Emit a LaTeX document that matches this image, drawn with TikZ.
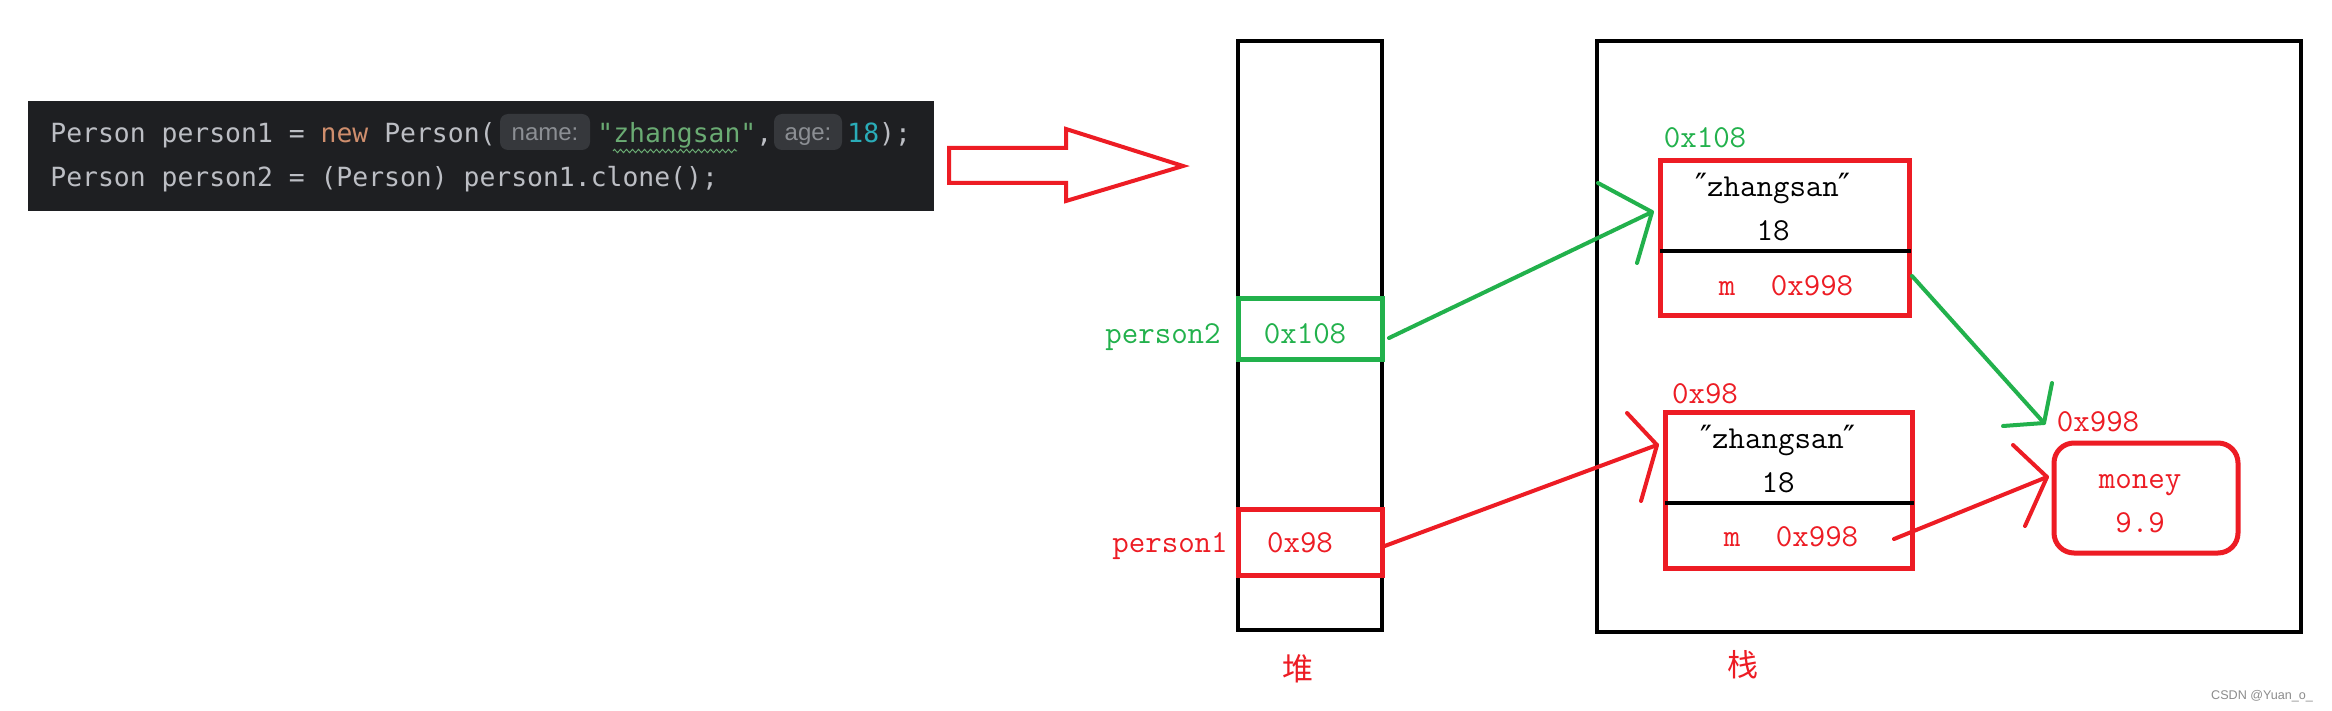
\documentclass[tikz,border=0pt]{standalone}
\usepackage{fontspec}
\usetikzlibrary{decorations.pathmorphing}
\newfontfamily\codefont{DejaVu Sans Mono}
\newfontfamily\hintfont{Liberation Sans}
\newfontfamily\cjk{Noto Sans CJK SC}
\newfontfamily\qfont{DejaVu Sans}
\definecolor{pred}{HTML}{ED1C24}
\definecolor{pgreen}{HTML}{22B14C}
\definecolor{codebg}{HTML}{1E1F22}
\definecolor{codefg}{HTML}{BCBEC4}
\definecolor{kw}{HTML}{CF8E6D}
\definecolor{str}{HTML}{6AAB73}
\definecolor{num}{HTML}{2AACB8}
\definecolor{hintbg}{HTML}{36383C}
\definecolor{hintfg}{HTML}{8C8F94}
\tikzset{
  memtxt/.style={font=\fontsize{16}{18}\selectfont\ttfamily, inner sep=0pt, anchor=base},
  codetxt/.style={font=\fontsize{13.2}{15}\selectfont\codefont, inner sep=0pt, anchor=base west, text=codefg},
  hintbox/.style={fill=hintbg, rounded corners=4pt, inner sep=0pt},
  hinttxt/.style={font=\fontsize{12}{14}\selectfont\hintfont, inner sep=0pt, anchor=base, text=hintfg},
  cjktxt/.style={font=\fontsize{15.5}{18}\selectfont\cjk, inner sep=0pt, anchor=center, text=pred},
  colbox/.style={draw=black, line width=2pt, inner sep=0pt, outer sep=0pt},
  slot/.style={line width=2.5pt, inner sep=0pt, outer sep=0pt},
  objbox/.style={draw=pred, line width=2.5pt, inner sep=0pt, outer sep=0pt},
  divline/.style={draw=black, line width=2pt},
  ptr/.style={line width=2pt, line cap=round, line join=round},
}
\begin{document}
\begin{tikzpicture}[x=0.5pt, y=-0.5pt]
\useasboundingbox (0,0) rectangle (2332,711);
\fill[white] (0,0) rectangle (2332,711);

% ---- code screenshot ----
\fill[codebg] (28,101) rectangle (934,211);
\node[codetxt] (c1a) at (50,143) {Person person1 =};
\node[codetxt, text=kw] (c1b) at (320.3,143) {new};
\node[codetxt] (c1c) at (383.9,143) {Person(};
\node[hintbox, minimum width=45pt, minimum height=18pt] (h1) at (545,132) {};
\node[hinttxt] (h1t) at (545,141) {name:};
\node[codetxt, text=str] (c1d) at (597,143) {"zhangsan"};
\node[codetxt] (c1e) at (756,143) {,};
\node[hintbox, minimum width=34pt, minimum height=18pt] (h2) at (808,132) {};
\node[hinttxt] (h2t) at (808,141) {age:};
\node[codetxt, text=num] (c1f) at (847,143) {18};
\node[codetxt] (c1g) at (878.8,143) {);};
\coordinate (wv1) at (613,151);
\coordinate (wv2) at (737,151);
\draw[str, line width=0.5pt, decorate, decoration={zigzag, segment length=3pt, amplitude=0.8pt}] (wv1) -- (wv2);
\node[codetxt] (c2) at (50,187) {Person person2 = (Person) person1.clone();};

% ---- big hollow arrow ----
\draw[pred, line width=2pt, line join=miter] (949,148) -- (1066,148) -- (1066,129) -- (1183,166) -- (1066,201) -- (1066,183) -- (949,183) -- cycle;

% ---- heap column ----
\node[colbox, minimum width=72pt, minimum height=294.5pt] (heap) at (1310,335.5) {};
\node[slot, draw=pgreen, fill=white, minimum width=72pt, minimum height=30.5pt] (p2) at (1310,328.5) {};
\node[slot, draw=pred, fill=white, minimum width=72pt, minimum height=33pt] (p1) at (1310,542) {};
\node[memtxt, text=pgreen] (p2name) at (1163,343) {person2};
\node[memtxt, text=pgreen] (p2val) at (1305,343) {0x108};
\node[memtxt, text=pred] (p1name) at (1170,552) {person1};
\node[memtxt, text=pred] (p1val) at (1300,552) {0x98};
\node[cjktxt] (heaplbl) at (1298,669) {堆};

% ---- stack box ----
\node[colbox, line width=2.3pt, minimum width=352pt, minimum height=295.5pt] (stack) at (1949,336.5) {};
\node[cjktxt] (stacklbl) at (1743,665) {栈};

% ---- object 0x108 ----
\node[objbox, minimum width=124.5pt, minimum height=77pt] (o1) at (1784.5,238) {};
\coordinate (o1dl) at (1660,251);
\coordinate (o1dr) at (1911,251);
\draw[divline] (o1dl) -- (o1dr);
\node[memtxt, text=pgreen] (o1addr) at (1705,148) {0x108};
\node[memtxt] (o1s) at (1773,197) {{\qfont ″}zhangsan{\qfont ″}};
\node[memtxt] (o1a) at (1773,241) {18};
\node[memtxt, text=pred] (o1m) at (1727,295) {m};
\node[memtxt, text=pred] (o1r) at (1812,295) {0x998};

% ---- object 0x98 ----
\node[objbox, minimum width=123.5pt, minimum height=78pt] (o2) at (1788.5,490) {};
\coordinate (o2dl) at (1665,503);
\coordinate (o2dr) at (1914,503);
\draw[divline] (o2dl) -- (o2dr);
\node[memtxt, text=pred] (o2addr) at (1705,403) {0x98};
\node[memtxt] (o2s) at (1778,448) {{\qfont ″}zhangsan{\qfont ″}};
\node[memtxt] (o2a) at (1778,492) {18};
\node[memtxt, text=pred] (o2m) at (1732,546) {m};
\node[memtxt, text=pred] (o2r) at (1817,546) {0x998};

% ---- money object ----
\node[objbox, rounded corners=10pt, minimum width=92pt, minimum height=55pt] (mb) at (2146,498) {};
\node[memtxt, text=pred] (mbaddr) at (2098,431) {0x998};
\node[memtxt, text=pred] (mbk) at (2140,488) {money};
\node[memtxt, text=pred] (mbv) at (2140,532) {9.9};

% ---- pointers ----
\coordinate (g1s) at (1389,338);
\coordinate (g1t) at (1652,212);
\coordinate (g1a) at (1598,183);
\coordinate (g1b) at (1637,263);
\draw[ptr, pgreen] (g1s) -- (g1t);
\draw[ptr, pgreen] (g1a) -- (g1t) -- (g1b);

\coordinate (g2s) at (1912,276);
\coordinate (g2t) at (2044,423);
\coordinate (g2a) at (2052,383);
\coordinate (g2b) at (2003,426);
\draw[ptr, pgreen] (g2s) -- (g2t);
\draw[ptr, pgreen] (g2a) -- (g2t) -- (g2b);

\coordinate (r1s) at (1382,547);
\coordinate (r1t) at (1657,445);
\coordinate (r1a) at (1627,413);
\coordinate (r1b) at (1641,501);
\draw[ptr, pred] (r1s) -- (r1t);
\draw[ptr, pred] (r1a) -- (r1t) -- (r1b);

\coordinate (r2s) at (1894,539);
\coordinate (r2t) at (2047,477);
\coordinate (r2a) at (2013,445);
\coordinate (r2b) at (2025,526);
\draw[ptr, pred] (r2s) -- (r2t);
\draw[ptr, pred] (r2a) -- (r2t) -- (r2b);

% ---- watermark ----
\node[font=\fontsize{6.3}{7}\selectfont\hintfont, text=black!45, inner sep=0pt] (wm) at (2262,696) {CSDN @Yuan\_o\_};
\end{tikzpicture}
\end{document}
